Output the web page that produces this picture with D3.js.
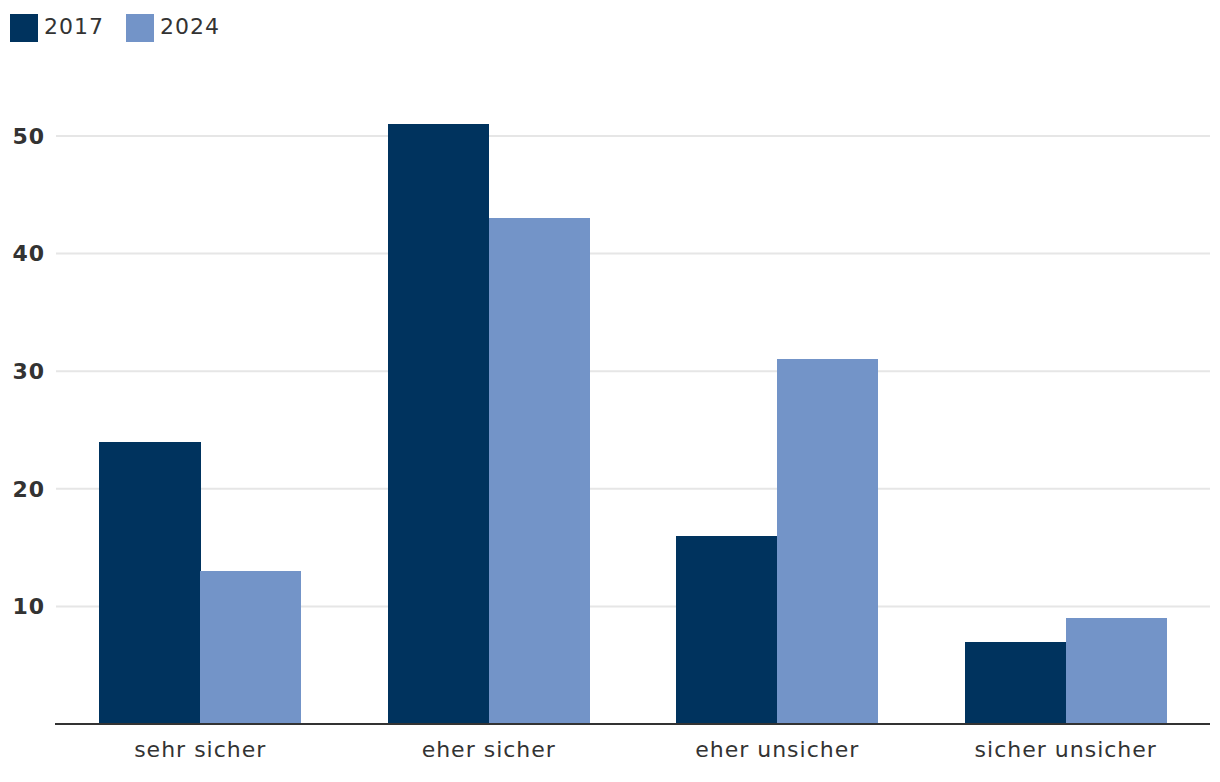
<!DOCTYPE html>
<html><head><meta charset="utf-8">
<script src="https://cdn.jsdelivr.net/npm/d3@7"></script>
<style>body{margin:0;background:#fff;font-family:"DejaVu Sans",Verdana,sans-serif;}</style>
</head><body><svg id="c" width="1220" height="782"></svg>
<script>
const categories = ["sehr sicher","eher sicher","eher unsicher","sicher unsicher"];
const seriesNames = ["2017","2024"];
const values2017 = [24, 51, 16, 7];
const values2024 = [13, 43, 31, 9];
const yTicks = [10,20,30,40,50];
const colors = ["#00335e","#7394c8"];

const svg = d3.select("#c");
const mLeft = 56, mRight = 1210, mBottom = 724;
const x = d3.scaleBand().domain(categories).range([mLeft,mRight]).paddingInner(0.3).paddingOuter(0.15);
const x1 = d3.scaleBand().domain(seriesNames).range([0,x.bandwidth()]);
const y = d3.scaleLinear().domain([0,50]).range([mBottom, mBottom-588]);

// grid
svg.append("g").selectAll("line").data(yTicks).join("line")
  .attr("x1",mLeft).attr("x2",mRight).attr("y1",d=>y(d)).attr("y2",d=>y(d))
  .attr("stroke","#e6e6e6").attr("stroke-width",2);
svg.append("g").selectAll("text").data(yTicks).join("text")
  .attr("x",45).attr("y",d=>y(d)).attr("dy","0.35em").attr("text-anchor","end")
  .attr("font-size",22).attr("font-weight","bold").attr("letter-spacing",1).attr("fill","#333").text(d=>d);

const data = categories.map((c,i)=>({c, v:[values2017[i], values2024[i]]}));
const g = svg.append("g").attr("shape-rendering","crispEdges");
data.forEach(d=>{
  seriesNames.forEach((s,j)=>{
    g.append("rect").attr("x",x(d.c)+x1(s)).attr("width",x1.bandwidth()+(j===0?0.5:0))
      .attr("y",y(d.v[j])).attr("height",y(0)-y(d.v[j])).attr("fill",colors[j]);
  });
});
svg.append("line").attr("x1",mLeft-1).attr("x2",mRight).attr("y1",mBottom).attr("y2",mBottom)
  .attr("stroke","#333").attr("stroke-width",2);
svg.append("g").selectAll("text").data(categories).join("text")
  .attr("x",d=>x(d)+x.bandwidth()/2).attr("y",757).attr("text-anchor","middle")
  .attr("font-size",22).attr("letter-spacing",1).attr("fill","#333").text(d=>d);

// legend
const legX = [10,126];
seriesNames.forEach((s,j)=>{
  svg.append("rect").attr("x",legX[j]).attr("y",14).attr("width",28).attr("height",28).attr("fill",colors[j]);
  svg.append("text").attr("x",legX[j]+34).attr("y",34).attr("font-size",22).attr("letter-spacing",1).attr("fill","#333").text(s);
});
</script></body></html>
